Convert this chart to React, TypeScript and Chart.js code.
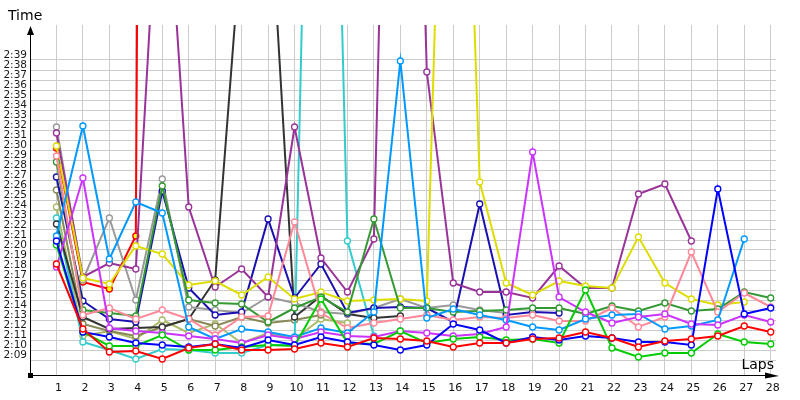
import React, { useEffect, useRef } from "react";
import { Chart, registerables } from "chart.js";

Chart.register(...registerables);

// ---- categories / ticks ----
const laps = [1, 2, 3, 4, 5, 6, 7, 8, 9, 10, 11, 12, 13, 14, 15, 16, 17, 18, 19, 20, 21, 22, 23, 24, 25, 26, 27, 28];
const yTickSeconds = [129, 130, 131, 132, 133, 134, 135, 136, 137, 138, 139, 140, 141, 142, 143, 144, 145, 146, 147, 148, 149, 150, 151, 152, 153, 154, 155, 156, 157, 158, 159];
const yTickLabels = ["2:09", "2:10", "2:11", "2:12", "2:13", "2:14", "2:15", "2:16", "2:17", "2:18", "2:19", "2:20", "2:21", "2:22", "2:23", "2:24", "2:25", "2:26", "2:27", "2:28", "2:29", "2:30", "2:31", "2:32", "2:33", "2:34", "2:35", "2:36", "2:37", "2:38", "2:39"];

// ---- series: lap times in seconds ----
const redYellow = [149.7, 136.3, 135.6, 140.9, 600];
const purple = [151.2, 136.8, 138.2, 137.6, 184, 143.8, 135.8, 137.6, 134.8, 151.8, 138.7, 135.3, 140.6, 250, 157.3, 136.2, 135.3, 135.3, 134.7, 137.9, 135.7, 135.7, 145.1, 146.1, 140.4];
const lightBlue = [140.9, 151.9, 138.6, 144.3, 143.2, 131.8, 130.6, 131.6, 131.3, 130.8, 131.7, 131.2, 133.3, 158.4, 132.7, 133.6, 133.0, 132.5, 131.8, 131.5, 132.6, 133.0, 133.1, 131.6, 131.9, 132.5, 140.6];
const violet = [137.8, 146.7, 131.7, 131.4, 131.2, 130.9, 130.6, 130.2, 131.0, 130.6, 131.3, 130.9, 130.8, 131.4, 131.2, 130.9, 131.1, 131.8, 149.3, 134.8, 133.3, 132.2, 132.8, 133.1, 132.1, 132.0, 133.0, 132.3];
const grey = [151.8, 136.5, 142.7, 134.5, 146.6, 133.8, 133.5, 133.2, 134.8, 134.2, 133.3, 133.1, 133.7, 134.6, 133.7, 134.0, 133.5, 133.2];
const black = [142.1, 132.8, 131.6, 131.7, 131.8, 132.6, 136.5, 171, 178, 132.8, 134.9, 133.1, 132.7, 132.9];
const yellow = [149.9, 136.7, 136.1, 139.9, 139.1, 136.0, 136.4, 135.0, 136.8, 134.6, 135.3, 134.4, 134.5, 134.6, 134.4, 225, 146.3, 136.2, 135.0, 136.4, 135.9, 135.7, 140.8, 136.2, 134.6, 134.0, 134.3];
const navy = [146.8, 134.4, 132.6, 132.3, 145.4, 135.7, 133.0, 133.3, 142.6, 134.7, 138.1, 133.2, 133.7, 133.8, 133.7, 132.3, 144.1, 133.0, 133.3, 133.2];
const blue = [140.4, 131.3, 130.8, 130.2, 130.0, 129.8, 130.1, 129.7, 130.5, 130.0, 130.8, 130.3, 130.0, 129.5, 130.0, 132.1, 131.5, 130.2, 130.8, 130.5, 130.9, 130.7, 130.3, 130.3, 130.0, 145.6, 133.1, 133.7];
const green = [140.0, 131.3, 129.9, 129.9, 131.0, 129.5, 129.5, 129.8, 130.0, 129.9, 134.6, 130.2, 130.1, 131.4, 130.2, 130.6, 130.8, 130.5, 130.6, 130.2, 135.5, 129.7, 128.8, 129.2, 129.2, 131.1, 130.3, 130.1];
const darkGreen = [148.3, 133.5, 133.2, 132.9, 145.9, 134.5, 134.2, 134.1, 132.3, 133.7, 134.8, 133.3, 142.6, 133.7, 133.7, 133.3, 133.4, 133.5, 133.7, 133.7, 133.1, 133.9, 133.4, 134.2, 133.4, 133.6, 135.3, 134.7];
const pink = [148.9, 133.0, 133.7, 132.6, 133.5, 132.6, 131.0, 132.8, 132.9, 142.3, 133.2, 131.7, 132.2, 132.6, 133.0, 132.5, 132.8, 132.7, 133.0, 132.4, 132.4, 133.7, 131.8, 132.8, 139.3, 133.3, 135.2, 133.8];
const cyan = [142.7, 130.3, 129.5, 128.6, 129.6, 129.5, 129.2, 129.2, 130.0, 130.0, 247, 140.4, 130.9];
const olive = [145.5, 132.1, 131.4, 130.9, 131.8, 132.6, 131.9, 132.8, 132.2, 132.5, 133.0];
const lightOlive = [143.8, 130.9, 131.4, 130.6, 132.5, 131.2, 132.1, 130.2, 131.2, 130.6, 132.6, 132.2];
const red = [138.1, 131.6, 129.3, 129.4, 128.6, 129.7, 130.1, 129.5, 129.5, 129.6, 130.2, 129.8, 130.7, 130.6, 130.4, 129.8, 130.2, 130.2, 130.6, 130.7, 131.3, 130.7, 129.8, 130.4, 130.6, 130.9, 131.9, 131.3];

const seriesDefs = [
  { values: red, color: "#ff0000", fill: "#ffffff" },
  { values: blue, color: "#0000ff", fill: "#ffffff" },
  { values: green, color: "#00cc00", fill: "#ffffff" },
  { values: violet, color: "#cc33ff", fill: "#ffffff" },
  { values: lightBlue, color: "#0099ff", fill: "#ffffff" },
  { values: pink, color: "#ff8899", fill: "#ffffff" },
  { values: darkGreen, color: "#339933", fill: "#ffffff" },
  { values: yellow, color: "#dddd00", fill: "#ffffff" },
  { values: purple, color: "#993399", fill: "#ffffff" },
  { values: navy, color: "#1a10b0", fill: "#ffffff" },
  { values: grey, color: "#999999", fill: "#ffffff" },
  { values: black, color: "#333333", fill: "#ffffff" },
  { values: cyan, color: "#33cccc", fill: "#ffffff" },
  { values: olive, color: "#888855", fill: "#ffffff" },
  { values: lightOlive, color: "#aabb66", fill: "#ffffff" },
  { values: redYellow, color: "#ff0000", fill: "#ffff00" },
];

const FONT = "'DejaVu Sans', sans-serif";

const decorations = {
  id: "decorations",
  afterDraw(chart: any) {
    const { ctx, chartArea: a } = chart;
    ctx.save();
    ctx.strokeStyle = "#000";
    ctx.fillStyle = "#000";
    ctx.lineWidth = 1;
    // y axis
    ctx.beginPath();
    ctx.moveTo(a.left + 0.5, a.bottom);
    ctx.lineTo(a.left + 0.5, a.top + 6);
    ctx.stroke();
    ctx.beginPath();
    ctx.moveTo(a.left + 0.5, a.top + 1);
    ctx.lineTo(a.left - 3, a.top + 10);
    ctx.lineTo(a.left + 4, a.top + 10);
    ctx.closePath();
    ctx.fill();
    // x axis
    ctx.beginPath();
    ctx.moveTo(a.left, a.bottom + 0.5);
    ctx.lineTo(a.right - 8, a.bottom + 0.5);
    ctx.stroke();
    ctx.beginPath();
    ctx.moveTo(a.right + 3, a.bottom + 1);
    ctx.lineTo(a.right - 11, a.bottom - 2.5);
    ctx.lineTo(a.right - 11, a.bottom + 3.5);
    ctx.closePath();
    ctx.fill();
    // origin marker
    ctx.fillRect(a.left - 2, a.bottom - 2, 5, 5);
    // axis titles
    ctx.font = `14px ${FONT}`;
    ctx.textBaseline = "alphabetic";
    ctx.textAlign = "left";
    ctx.fillText("Time", 8, 20);
    ctx.textAlign = "right";
    ctx.fillText("Laps", a.right - 2, a.bottom - 6);
    ctx.restore();
  },
};

export default function App() {
  const ref = useRef<HTMLCanvasElement | null>(null);

  useEffect(() => {
    if (!ref.current) return;
    const datasets = seriesDefs.map((s) => ({
      data: s.values.map((v, i) => ({ x: laps[i], y: v })),
      borderColor: s.color,
      backgroundColor: s.fill,
      pointBackgroundColor: s.fill,
      pointBorderColor: s.color,
      pointRadius: 3,
      pointBorderWidth: 1.3,
      borderWidth: 2,
      tension: 0,
    }));
    const chart = new Chart(ref.current, {
      type: "line",
      data: { datasets },
      options: {
        animation: false,
        responsive: false,
        events: [],
        layout: { padding: { top: 25, right: 24, left: 0, bottom: 0 } },
        plugins: { legend: { display: false }, tooltip: { enabled: false } },
        scales: {
          x: {
            type: "linear",
            min: 0,
            max: 28.2,
            afterFit: (scale: any) => {
              scale.height = 25;
            },
            afterBuildTicks: (scale: any) => {
              scale.ticks = laps.map((v) => ({ value: v }));
            },
            grid: { color: "#cccccc", lineWidth: 1, drawTicks: false },
            border: { display: false },
            ticks: {
              autoSkip: false,
              maxRotation: 0,
              padding: 7,
              labelOffset: 2,
              color: "#111",
              font: { family: FONT, size: 11 },
              callback: (_v: any, i: number) => String(laps[i]),
            },
          },
          y: {
            type: "linear",
            min: 127,
            max: 162,
            afterFit: (scale: any) => {
              scale.width = 30;
            },
            afterBuildTicks: (scale: any) => {
              scale.ticks = yTickSeconds.map((v) => ({ value: v - 0.5 }));
            },
            grid: { color: "#cccccc", lineWidth: 1, drawTicks: false },
            border: { display: false },
            ticks: {
              autoSkip: false,
              padding: 3,
              labelOffset: -5,
              color: "#1a1a1a",
              font: { family: FONT, size: 10.5 },
              callback: (_v: any, i: number) => yTickLabels[i],
            },
          },
        },
      },
      plugins: [decorations],
    });
    return () => chart.destroy();
  }, []);

  return (
    <div style={{ position: "absolute", left: 0, top: 0, width: 800, height: 400, background: "#fff" }}>
      <canvas ref={ref} width={800} height={400} />
    </div>
  );
}
